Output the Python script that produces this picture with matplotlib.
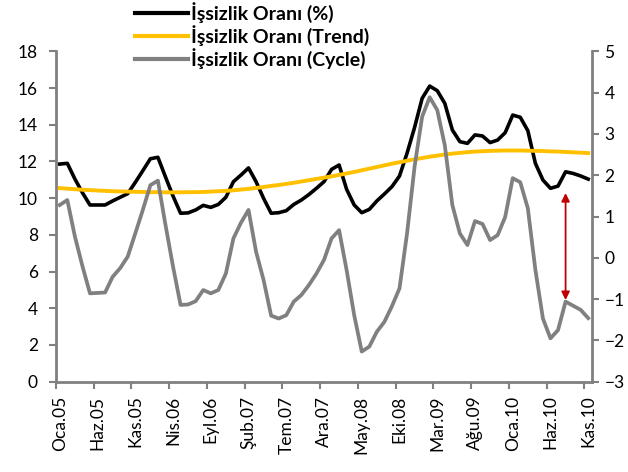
import matplotlib
matplotlib.use("Agg")
import matplotlib.pyplot as plt
from matplotlib.ticker import FixedLocator, NullFormatter

plt.rcParams['font.family'] = ['Lato', 'DejaVu Sans']

# Monthly data: Oca.05 ... Kas.10 (71 months)
months = ["Oca", "Şub", "Mar", "Nis", "May", "Haz", "Tem", "Ağu", "Eyl", "Eki", "Kas", "Ara"]
years = ["05", "06", "07", "08", "09", "10"]
categories = [f"{m}.{y}" for y in years for m in months][:71]

rate = [11.86, 11.90, 11.05, 10.30, 9.63, 9.63, 9.63, 9.85, 10.05, 10.25,
        10.86, 11.50, 12.15, 12.23, 11.16, 10.12, 9.18, 9.20, 9.36, 9.61,
        9.50, 9.66, 10.05, 10.90, 11.26, 11.65, 10.90, 9.99, 9.18, 9.21,
        9.32, 9.66, 9.90, 10.20, 10.54, 10.90, 11.57, 11.81, 10.48, 9.63,
        9.21, 9.39, 9.85, 10.23, 10.63, 11.21, 12.45, 13.86, 15.44, 16.11,
        15.86, 15.17, 13.72, 13.08, 12.99, 13.45, 13.39, 13.03, 13.17, 13.57,
        14.53, 14.41, 13.68, 11.90, 10.99, 10.54, 10.66, 11.44, 11.35, 11.21,
        11.04]

trend = [10.55, 10.52, 10.49, 10.46, 10.44, 10.42, 10.40, 10.38, 10.37, 10.36,
         10.35, 10.34, 10.33, 10.33, 10.32, 10.32, 10.32, 10.33, 10.33, 10.34,
         10.36, 10.38, 10.40, 10.43, 10.47, 10.51, 10.56, 10.61, 10.67, 10.72,
         10.78, 10.84, 10.91, 10.98, 11.05, 11.12, 11.19, 11.27, 11.35, 11.43,
         11.52, 11.61, 11.70, 11.79, 11.88, 11.96, 12.04, 12.12, 12.19, 12.26,
         12.32, 12.38, 12.43, 12.47, 12.51, 12.54, 12.56, 12.58, 12.59, 12.60,
         12.60, 12.60, 12.59, 12.58, 12.57, 12.55, 12.54, 12.52, 12.50, 12.48,
         12.46]

cycle = [1.28, 1.40, 0.52, -0.20, -0.86, -0.85, -0.84, -0.46, -0.25, 0.03,
         0.59, 1.16, 1.76, 1.87, 0.80, -0.21, -1.14, -1.13, -1.05, -0.78,
         -0.86, -0.78, -0.38, 0.47, 0.85, 1.16, 0.15, -0.54, -1.40, -1.47,
         -1.39, -1.06, -0.90, -0.66, -0.38, -0.05, 0.47, 0.67, -0.30, -1.39,
         -2.27, -2.15, -1.79, -1.55, -1.17, -0.74, 0.59, 2.21, 3.42, 3.89,
         3.58, 2.73, 1.28, 0.59, 0.31, 0.89, 0.82, 0.43, 0.55, 0.99,
         1.93, 1.83, 1.20, -0.29, -1.47, -1.95, -1.75, -1.06, -1.16, -1.26,
         -1.46]

series_names = ["İşsizlik Oranı (%)", "İşsizlik Oranı (Trend)", "İşsizlik Oranı (Cycle)"]
left_ticks = [0, 2, 4, 6, 8, 10, 12, 14, 16, 18]
right_ticks = [-3, -2, -1, 0, 1, 2, 3, 4, 5]
label_step = 5
arrow_month = "Ağu.10"
arrow_top = 10.28      # left-axis value
arrow_bottom = 4.45    # left-axis value

x = list(range(len(categories)))

fig = plt.figure(figsize=(6.28, 4.72), dpi=100)
ax = fig.add_axes([56/628, 1-381.7/472, (592-56)/628, (381.7-51.4)/472])
ax2 = ax.twinx()

l1, = ax.plot(x, rate, color='black', lw=2.6, solid_joinstyle='round', zorder=3)
l2, = ax.plot(x, trend, color='#FFC000', lw=2.8, solid_joinstyle='round', zorder=4)
l3, = ax2.plot(x, cycle, color='#808080', lw=2.7, solid_joinstyle='round', zorder=3)

ax.set_xlim(-0.5, len(categories) - 0.5)
ax.set_ylim(0, 18)
ax2.set_ylim(-3, 5)
ax.set_yticks(left_ticks)
ax2.set_yticks(right_ticks)

lab_pos = list(range(0, len(categories), label_step))
ax.xaxis.set_major_locator(FixedLocator([p - 0.5 for p in lab_pos]))
ax.xaxis.set_major_formatter(NullFormatter())
ax.xaxis.set_minor_locator(FixedLocator(lab_pos))
ax.set_xticklabels([categories[p] for p in lab_pos], minor=True, rotation=90)
ax.tick_params(axis='x', which='minor', length=0, pad=10, labelsize=12.5)
ax.tick_params(axis='x', which='major', length=5, width=1.5, color='#808080', direction='out')
ax.tick_params(axis='y', length=5, width=1.5, color='#808080', labelsize=12.5, pad=8)
ax2.tick_params(axis='y', length=5, width=1.5, color='#808080', labelsize=12.5, pad=4)

for a in (ax, ax2):
    a.spines['top'].set_visible(False)
    for s in ('left', 'right', 'bottom'):
        a.spines[s].set_color('#808080')
        a.spines[s].set_linewidth(2)
ax.spines['right'].set_visible(False)
ax2.spines['left'].set_visible(False)
ax2.spines['bottom'].set_visible(False)

ai = categories.index(arrow_month)
ax.annotate('', xy=(ai, arrow_top), xytext=(ai, arrow_bottom),
            arrowprops=dict(arrowstyle='<|-|>', color='#C00000', lw=1.3,
                            mutation_scale=12, shrinkA=0, shrinkB=0), zorder=6)

leg = fig.legend([l1, l2, l3], series_names, loc='upper left',
                 bbox_to_anchor=(135/628, 1 - 2/472), frameon=False,
                 prop=dict(family=['Lato', 'DejaVu Sans'], weight='bold', size=14),
                 handlelength=2.75, handletextpad=0.12, labelspacing=0.1,
                 borderpad=0, borderaxespad=0)
for h in leg.get_lines():
    h.set_linewidth(3)

fig.savefig('out.png', dpi=100)
